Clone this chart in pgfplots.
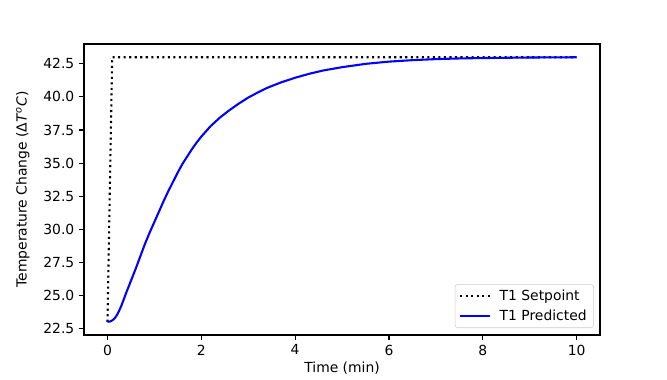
\documentclass[border=0pt]{standalone}
\usepackage{fontspec}
\setmainfont{DejaVu Sans}
\usepackage{pgfplots}
\pgfplotsset{compat=1.18}
\begin{document}
\fontsize{10pt}{12pt}\selectfont
\begin{tikzpicture}
\begin{axis}[
  scale only axis,
  width=371.5pt, height=209.5pt,
  at={(0,0)}, anchor=south west,
  xmin=-0.5, xmax=10.5, ymin=22, ymax=44,
  xtick={0,2,4,6,8,10},
  ytick={22.5,25,27.5,30,32.5,35,37.5,40,42.5},
  yticklabel style={/pgf/number format/.cd,fixed,fixed zerofill,precision=1},
  /pgf/number format/assume math mode=true,
  tick align=outside, tick pos=left,
  major tick length=3.5pt,
  every tick/.style={black, line width=0.8pt},
  axis line style={line width=0.8pt},
  tick label style={font=\fontsize{10pt}{12pt}\selectfont},
  label style={font=\fontsize{10pt}{12pt}\selectfont},
  xlabel={Time (min)},
  ylabel={Temperature Change (Δ\textit{T}\textsuperscript{\textit{o}}\textit{C})},
  xlabel style={yshift=2pt},
  ylabel style={yshift=3pt},
  legend style={at={(0.988,0.024)}, anchor=south east, draw=black!20, rounded corners=2pt,
    font=\fontsize{10pt}{12pt}\selectfont, row sep=1pt, inner xsep=3pt, inner ysep=2pt},
  legend cell align=left,
  legend image code/.code={\draw[#1] (0cm,0cm) -- (0.75cm,0cm); \path (0.9cm,0cm);},
]
\addplot[black, line width=1.5pt, dash pattern=on 1.5pt off 2.475pt] coordinates {
(0,23) (0.1,43) (10,43)};
\addlegendentry{T1 Setpoint}
\addplot[blue, line width=1.5pt, line join=round] coordinates {
(0,23.0) (0.05,23.02) (0.1,23.1) (0.15,23.25) (0.2,23.5) (0.25,23.85) (0.3,24.25)
(0.4,25.2) (0.5,26.1) (0.6,27.0) (0.7,27.95) (0.8,28.9) (0.9,29.75) (1.0,30.55)
(1.1,31.35) (1.2,32.15) (1.3,32.9) (1.4,33.6) (1.5,34.3) (1.6,34.95) (1.7,35.5)
(1.8,36.05) (1.9,36.55) (2.0,37.0) (2.2,37.8) (2.4,38.45) (2.6,39.0) (2.8,39.5)
(3.0,39.95) (3.2,40.33) (3.4,40.68) (3.7,41.1) (4.0,41.45) (4.3,41.75) (4.6,42.0)
(5.0,42.25) (5.5,42.5) (6.0,42.67) (6.5,42.78) (7.0,42.86) (7.5,42.91) (8.0,42.94)
(9.0,42.98) (10.0,43.0)};
\addlegendentry{T1 Predicted}
\end{axis}
\useasboundingbox (-60.5pt,-29.5pt) rectangle (419.7pt,241.2pt);
\end{tikzpicture}
\end{document}
